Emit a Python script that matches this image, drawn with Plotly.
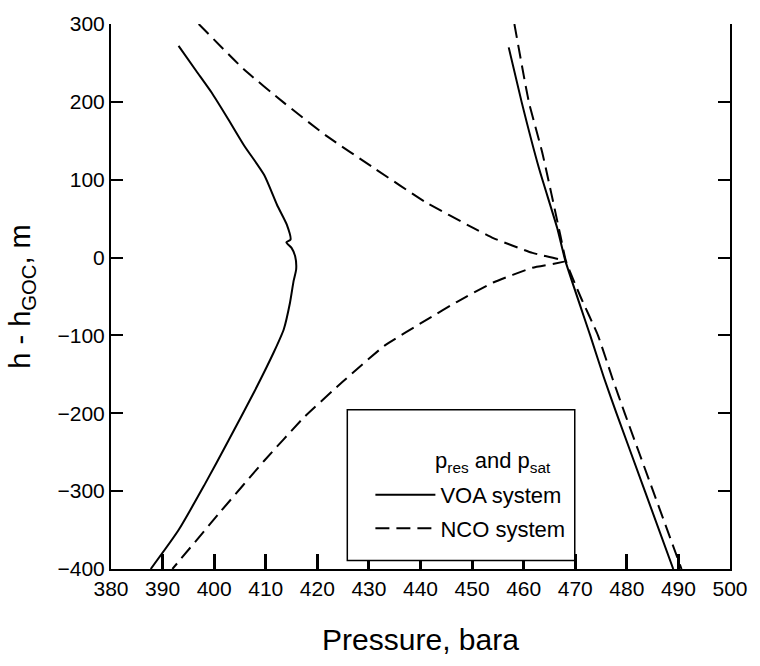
import plotly.graph_objects as go

# ---- data ----
# VOA system: saturation pressure (left solid curve)
voa_psat_h = [272, 240, 212, 178, 144, 106, 67.5, 42, 23, 19.6, 12.4, 1.8, -15, -30, -58, -92, -121, -172, -236, -291, -350, -400]
voa_psat_p = [393.1, 396.5, 399.5, 402.7, 405.8, 409.7, 412.2, 414.1, 414.8, 414.0, 415.0, 415.7, 415.9, 415.4, 414.7, 413.5, 411.6, 407.8, 402.7, 398.2, 393.1, 387.7]
# VOA system: reservoir pressure (right solid line)
voa_pres_h = [270, 200, 114, 38, -4.6, -100, -155, -200, -300, -400]
voa_pres_p = [457.1, 459.6, 463.0, 466.5, 468.1, 472.9, 475.6, 478.0, 483.5, 489.0]
# NCO system: saturation pressure (left dashed curve, dew branch then bubble branch)
nco_psat_h = [300, 241.5, 199, 156.6, 114, 71.8, 37.8, 25, 6, -4.6, -13, -32, -56.8, -79, -112.8, -159.5, -206, -261, -325, -400]
nco_psat_p = [397.0, 405.8, 413.5, 421.7, 431.2, 440.8, 450.3, 454.1, 461.7, 468.1, 461.7, 454.1, 447.1, 441.4, 433.1, 424.9, 417.3, 409.7, 401.4, 391.9]
# NCO system: reservoir pressure (right dashed line)
nco_pres_h = [300, 220, 197, 135, 29, -4.6, -50, -100, -155, -200, -300, -400]
nco_pres_p = [458.2, 460.4, 461.1, 463.6, 467.1, 468.2, 471.0, 474.4, 477.2, 479.6, 485.1, 490.6]

FONT = "Liberation Sans, Arial, Helvetica, sans-serif"
DASH = "14px,7px"

fig = go.Figure()
fig.add_trace(go.Scatter(x=voa_psat_p, y=voa_psat_h, mode="lines",
                         line=dict(color="black", width=2, shape="spline", smoothing=0.6),
                         name="VOA system", legendgroup="voa", showlegend=True))
fig.add_trace(go.Scatter(x=voa_pres_p, y=voa_pres_h, mode="lines",
                         line=dict(color="black", width=2, shape="spline", smoothing=0.5),
                         name="VOA system", legendgroup="voa", showlegend=False))
fig.add_trace(go.Scatter(x=nco_psat_p, y=nco_psat_h, mode="lines",
                         line=dict(color="black", width=2, dash=DASH, shape="spline", smoothing=0.4),
                         name="NCO system", legendgroup="nco", showlegend=True))
fig.add_trace(go.Scatter(x=nco_pres_p, y=nco_pres_h, mode="lines",
                         line=dict(color="black", width=2, dash=DASH, shape="spline", smoothing=0.5),
                         name="NCO system", legendgroup="nco", showlegend=False))

fig.update_xaxes(range=[380, 500], dtick=10, showline=True, linecolor="black", linewidth=2,
                 ticks="inside", ticklen=15, tickwidth=3, tickcolor="black", showgrid=False, zeroline=False,
                 tickfont=dict(family=FONT, size=21, color="black"),
                 title=dict(text="Pressure, bara", font=dict(family=FONT, size=30, color="black"), standoff=30))
fig.update_yaxes(range=[-400, 300], dtick=100, showline=True, linecolor="black", linewidth=2,
                 mirror="ticks",
                 ticks="inside", ticklen=12, tickwidth=2, tickcolor="black", showgrid=False, zeroline=False,
                 tickfont=dict(family=FONT, size=21, color="black"),
                 title=dict(text="h - h<sub>GOC</sub>, m", font=dict(family=FONT, size=29, color="black"), standoff=18))

def px2x(px):
    return (px - 111) / 630.0

def py2y(py):
    return (569 - py) / 550.0

fig.update_layout(
    width=760, height=666,
    margin=dict(l=111, r=19, t=19, b=97),
    paper_bgcolor="white", plot_bgcolor="white",
    font=dict(family=FONT, color="black"),
    showlegend=True,
    legend=dict(x=px2x(375), y=py2y(473), xanchor="left", yanchor="top",
                bgcolor="rgba(0,0,0,0)", borderwidth=0,
                font=dict(family=FONT, size=22, color="black"),
                itemwidth=60, tracegroupgap=2, traceorder="grouped"),
    shapes=[dict(type="rect", xref="paper", yref="paper",
                 x0=px2x(351.5), x1=px2x(583), y0=py2y(560.5), y1=py2y(408.3),
                 line=dict(color="black", width=1.5), fillcolor="white", layer="above")],
    annotations=[dict(text="p<sub>res</sub> and p<sub>sat</sub>", xref="paper", yref="paper",
                      x=px2x(439), y=py2y(461), xanchor="left", yanchor="middle",
                      showarrow=False, font=dict(family=FONT, size=22, color="black"))],
)

fig.write_html("out.html")
